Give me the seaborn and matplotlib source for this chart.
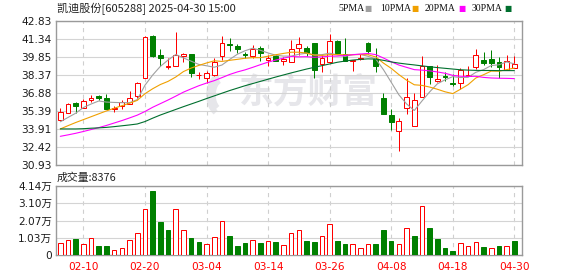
import matplotlib
matplotlib.use("Agg")
import matplotlib.pyplot as plt
import seaborn as sns
import pandas as pd
import numpy as np
from matplotlib.patches import Arc

# ---------------- data ----------------
dates = ["02-05","02-06","02-07","02-10","02-11","02-12","02-13","02-14","02-17","02-18",
         "02-19","02-20","02-21","02-24","02-25","02-26","02-27","02-28","03-03","03-04",
         "03-05","03-06","03-07","03-10","03-11","03-12","03-13","03-14","03-17","03-18",
         "03-19","03-20","03-21","03-24","03-25","03-26","03-27","03-28","03-31","04-01",
         "04-02","04-03","04-07","04-08","04-09","04-10","04-11","04-14","04-15","04-16",
         "04-17","04-18","04-21","04-22","04-23","04-24","04-25","04-28","04-29","04-30"]

opens = [34.67,35.24,36.03,35.68,36.34,36.61,36.50,35.57,35.79,35.95,
         36.61,38.14,41.61,40.00,39.00,39.10,39.95,40.08,38.33,38.14,
         38.33,39.92,40.93,40.79,40.11,39.92,40.63,39.62,39.92,39.55,
         39.43,40.57,40.63,41.01,39.29,39.43,41.20,40.14,39.51,39.70,
         41.03,39.73,36.50,35.05,33.77,35.65,34.12,36.58,39.10,37.85,
         38.30,37.70,37.73,38.28,39.04,39.64,39.73,39.45,38.82,38.96]
highs = [35.68,36.05,36.17,36.39,36.69,36.72,36.77,35.79,36.28,37.02,
         37.80,41.56,41.70,40.49,39.75,41.89,40.19,40.14,38.63,38.69,
         39.78,41.56,41.42,40.93,40.25,40.88,40.74,40.00,40.11,39.84,
         41.29,41.50,40.75,41.01,40.06,41.78,41.30,41.45,39.64,40.11,
         41.06,40.60,36.91,35.54,34.78,38.09,36.86,39.97,39.10,39.18,
         38.63,38.47,38.96,39.15,40.55,40.27,40.47,39.86,40.06,39.92]
lows = [34.67,35.20,35.21,35.68,36.17,36.31,35.52,35.32,35.57,35.95,
        36.50,38.14,39.85,39.10,38.88,39.10,39.45,38.20,38.00,37.70,
        38.25,39.64,40.38,40.19,39.78,39.78,39.51,39.10,39.51,39.23,
        39.43,40.05,39.90,38.14,38.63,39.37,40.10,39.51,38.69,39.64,
        40.11,38.61,35.13,33.85,32.07,35.13,34.12,36.58,37.62,37.80,
        37.87,37.46,37.18,38.28,38.88,39.18,39.04,38.14,38.82,38.96]
closes = [35.27,36.01,35.82,36.25,36.50,36.50,35.57,35.68,36.17,36.50,
          37.73,41.50,39.92,39.75,39.10,40.03,40.11,38.55,38.39,38.55,
          39.45,41.01,40.85,40.52,40.00,40.52,40.16,39.75,39.56,39.65,
          40.52,40.93,40.19,38.82,39.78,41.15,40.19,39.56,39.64,39.81,
          40.33,39.10,35.13,34.50,34.59,36.58,36.34,39.10,38.22,38.00,
          38.22,37.62,38.74,38.33,40.06,39.32,39.32,39.02,39.51,39.29]

ma5 = [34.50,34.86,35.21,35.68,35.97,36.22,36.13,36.10,36.08,36.08,
       36.33,37.52,38.36,39.08,39.60,40.06,39.78,39.51,39.24,39.13,
       39.01,39.19,39.65,40.08,40.37,40.58,40.41,40.19,40.00,39.93,
       39.93,40.08,40.17,40.02,40.05,40.17,40.03,39.90,40.06,40.07,
       39.91,39.69,38.80,37.77,36.73,35.98,35.43,36.22,36.97,37.64,
       37.97,38.23,38.16,38.18,38.59,38.81,39.15,39.21,39.45,39.29]
ma10 = [33.91,34.18,34.44,34.68,34.92,35.16,35.40,35.62,35.83,36.03,
        36.27,36.82,37.23,37.58,37.84,38.20,38.65,38.94,39.16,39.36,
        39.54,39.49,39.58,39.66,39.75,39.80,39.80,39.92,40.04,40.15,
        40.25,40.25,40.18,40.01,39.99,40.05,40.05,40.04,40.04,40.06,
        40.04,39.86,39.35,38.92,38.40,37.94,37.56,37.51,37.37,37.19,
        36.98,36.83,37.19,37.57,38.12,38.39,38.69,38.68,38.81,38.94]
ma20 = [33.30,33.42,33.55,33.70,33.86,34.02,34.20,34.40,34.60,34.82,
        35.05,35.35,35.70,36.00,36.30,36.62,36.95,37.22,37.48,37.70,
        37.90,38.15,38.41,38.62,38.79,39.00,39.22,39.43,39.60,39.76,
        39.89,39.87,39.88,39.83,39.87,39.92,39.93,39.98,40.04,40.10,
        40.15,40.05,39.77,39.46,39.19,39.00,38.81,38.77,38.71,38.62,
        38.51,38.34,38.27,38.25,38.26,38.17,38.12,38.10,38.09,38.07]
ma30 = [33.91,33.91,33.91,33.93,33.97,34.00,34.04,34.10,34.17,34.24,
        34.32,34.52,34.80,35.06,35.29,35.52,35.75,35.97,36.19,36.42,
        36.64,36.86,37.08,37.28,37.48,37.66,37.84,38.02,38.20,38.37,
        38.54,38.70,38.86,39.00,39.14,39.28,39.42,39.52,39.60,39.66,
        39.70,39.68,39.58,39.45,39.35,39.27,39.20,39.12,39.05,38.98,
        38.92,38.86,38.80,38.77,38.75,38.74,38.74,38.73,38.73,38.73]

volumes = [7470,9090,9900,6870,10300,5660,5660,3030,4240,9090,
           13330,27880,38380,19600,14750,27880,15150,10500,7680,6870,
           10900,20200,11110,5660,7470,9090,7470,8690,8080,6260,
           13330,15150,8690,8080,11510,18790,8690,6870,6670,4240,
           6670,6870,14750,8690,6670,16360,11110,29690,15960,9900,
           4440,2630,7270,5450,7880,5050,4240,5450,5450,8376]
# 1 = red (up) volume bar, 0 = green
vol_up = [1,1,0,1,1,0,0,1,1,1, 1,1,0,0,0,1,1,0,0,1,
          1,1,0,0,0,1,0,1,0,1, 1,1,0,0,1,1,0,0,1,1,
          1,0,0,0,1,1,0,1,0,0, 0,0,1,1,1,0,1,0,1,0]

price_ticks = [30.93, 32.42, 33.91, 35.39, 36.88, 38.37, 39.85, 41.34, 42.83]
vol_ticks = [0, 10300, 20700, 31000, 41400]
vol_tick_labels = ["0", "1.03万", "2.07万", "3.10万", "4.14万"]
label_idx = [3, 11, 19, 27, 35, 43, 51, 59]

title = "凯迪股份[605288] 2025-04-30 15:00"
ma_names = ["5PMA", "10PMA", "20PMA", "30PMA"]
ma_colors = ["#a0a0a0", "#f0a000", "#ff00ff", "#006f2e"]

# ---------------- style ----------------
sns.set_style("white")
plt.rcParams['font.family'] = ['DejaVu Sans', 'Noto Sans CJK SC']
plt.rcParams['lines.scale_dashes'] = False

RED = "#ff0000"
GREEN = "#008000"
GRID = "#d4d4d4"
SPINE = "#9a9a9a"
TXT = "#1c1c1c"
LW = 0.72  # ~1 px

W, H = 578, 276
fig = plt.figure(figsize=(W / 100, H / 100), dpi=100)
fig.patch.set_facecolor("white")

L, R = 56, 522
ax = fig.add_axes([L / W, 1 - 165 / H, (R - L) / W, (165 - 21) / H])
axv = fig.add_axes([L / W, 1 - 255 / H, (R - L) / W, (255 - 186) / H])

n = len(dates)
x = np.arange(n)
df = pd.DataFrame({"x": x, "open": opens, "high": highs, "low": lows, "close": closes,
                   "ma5": ma5, "ma10": ma10, "ma20": ma20, "ma30": ma30,
                   "vol": volumes, "vup": vol_up})

for a in (ax, axv):
    a.set_xlim(-0.56, n + 0.0)
    a.set_facecolor("white")
    for s in a.spines.values():
        s.set_color(SPINE)
        s.set_linewidth(1.0)
    a.set_xticks(label_idx)
    a.grid(axis="x", color="#cfcfcf", linestyle=(0, (3, 3)), linewidth=0.8)
    a.grid(axis="y", color=GRID, linestyle="-", linewidth=0.8)
    a.set_axisbelow(True)
    a.tick_params(length=0)

# price panel
ax.set_ylim(price_ticks[0], price_ticks[-1])
ax.set_yticks(price_ticks)
ax.set_yticklabels([f"{t:.2f}" for t in price_ticks], fontsize=7.7, color=TXT)
ax.tick_params(axis="y", pad=3)
ax.set_xticklabels([])

# watermark
ax.text(308 / W, 1 - 92 / H, "东方财富", transform=fig.transFigure, ha="center", va="center",
        fontsize=25, fontweight="bold", color="#e6e6ea", family=["Noto Sans CJK SC"], zorder=0.2)
for (w, h, t1, t2) in [(0.26, 0.40, 100, 250), (0.18, 0.30, 100, 250)]:
    arc = Arc((2.22, (H - 95) / 100), w, h, theta1=t1, theta2=t2, color="#e6e6ea",
              linewidth=4, transform=fig.dpi_scale_trans, zorder=0.2)
    ax.add_artist(arc)

# candles
up = df["close"] >= df["open"]
cols = np.where(up, RED, GREEN)
ax.vlines(df["x"], df["low"], df["high"], colors=cols, linewidth=LW, zorder=3)
body_bottom = np.minimum(df["open"], df["close"])
body_h = np.maximum(np.abs(df["close"] - df["open"]), 0.04)
ax.bar(df["x"], body_h, bottom=body_bottom, width=0.62,
       color=np.where(up, "white", GREEN), edgecolor=cols, linewidth=LW, zorder=4)

# moving averages
for name, col, c in zip(ma_names, ["ma5", "ma10", "ma20", "ma30"], ma_colors):
    sns.lineplot(data=df, x="x", y=col, ax=ax, color=c, linewidth=0.8, zorder=5, legend=False)
ax.set_xlabel("")
ax.set_ylabel("")

# volume panel
vcol = np.where(df["vup"] == 1, RED, GREEN)
axv.bar(df["x"], df["vol"], width=0.6, color=np.where(df["vup"] == 1, "white", GREEN),
        edgecolor=vcol, linewidth=LW, zorder=3)
axv.set_ylim(0, vol_ticks[-1])
axv.set_yticks(vol_ticks)
axv.set_yticklabels(vol_tick_labels, fontsize=7.6, color=TXT)
axv.tick_params(axis="y", pad=3)
axv.set_xticklabels([dates[i] for i in label_idx], fontsize=7.6, color=RED)
axv.tick_params(axis="x", pad=5)

# texts
fig.text(57 / W, 1 - 8.5 / H, title, ha="left", va="center", fontsize=8,
         family=["Noto Sans CJK SC", "DejaVu Sans"], color="#222222")
fig.text(57 / W, 1 - 177.5 / H, f"成交量:{volumes[-1]}", ha="left", va="center", fontsize=7.8,
         family=["Noto Sans CJK SC", "DejaVu Sans"], color="#222222")

leg_x = [338, 380, 425, 472]
sq_x = [368, 415, 462, 508]
for name, c, lx, sx in zip(ma_names, ma_colors, leg_x, sq_x):
    fig.text(lx / W, 1 - 8.5 / H, name, ha="left", va="center", fontsize=7,
             family=["Liberation Serif"], color="#111111")
    fig.text(sx / W, 1 - 8.5 / H, "■", ha="center", va="center", fontsize=5.5,
             family=["DejaVu Sans"], color=c)

fig.savefig("out.png", dpi=100, facecolor="white")
